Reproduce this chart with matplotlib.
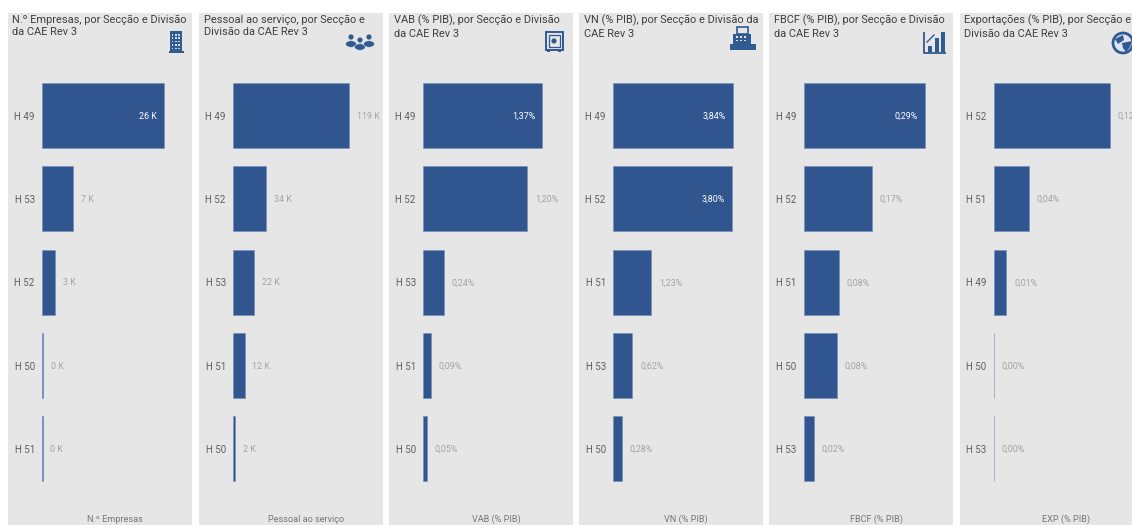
import matplotlib
matplotlib.use("Agg")
import matplotlib.pyplot as plt
from matplotlib.patches import Rectangle, Circle, Ellipse, Polygon

W, H = 1132, 525
plt.rcParams['font.family'] = ['Roboto', 'DejaVu Sans']

titles = ["N.º Empresas, por Secção e Divisão\nda CAE Rev 3",
          "Pessoal ao serviço, por Secção e\nDivisão da CAE Rev 3",
          "VAB (% PIB), por Secção e Divisão\nda CAE Rev 3",
          "VN (% PIB), por Secção e Divisão da\nCAE Rev 3",
          "FBCF (% PIB), por Secção e Divisão\nda CAE Rev 3",
          "Exportações (% PIB), por Secção e\nDivisão da CAE Rev 3"]
xlabels = ["N.º Empresas", "Pessoal ao serviço", "VAB (% PIB)", "VN (% PIB)", "FBCF (% PIB)", "EXP (% PIB)"]

emp_cats = ["H 49", "H 53", "H 52", "H 50", "H 51"]
emp_vals = [26.0, 6.6, 2.8, 0.2, 0.15]
emp_lbls = ["26 K", "7 K", "3 K", "0 K", "0 K"]

pes_cats = ["H 49", "H 52", "H 53", "H 51", "H 50"]
pes_vals = [119, 34, 22, 12, 2]
pes_lbls = ["119 K", "34 K", "22 K", "12 K", "2 K"]

vab_cats = ["H 49", "H 52", "H 53", "H 51", "H 50"]
vab_vals = [1.37, 1.20, 0.24, 0.09, 0.05]
vab_lbls = ["1,37%", "1,20%", "0,24%", "0,09%", "0,05%"]

vn_cats = ["H 49", "H 52", "H 51", "H 53", "H 50"]
vn_vals = [3.84, 3.80, 1.23, 0.62, 0.28]
vn_lbls = ["3,84%", "3,80%", "1,23%", "0,62%", "0,28%"]

fbcf_cats = ["H 49", "H 52", "H 51", "H 50", "H 53"]
fbcf_vals = [0.29, 0.165, 0.084, 0.08, 0.024]
fbcf_lbls = ["0,29%", "0,17%", "0,08%", "0,08%", "0,02%"]

exp_cats = ["H 52", "H 51", "H 49", "H 50", "H 53"]
exp_vals = [0.12, 0.037, 0.0134, 0.0006, 0.0004]
exp_lbls = ["0,12%", "0,04%", "0,01%", "0,00%", "0,00%"]

all_cats = [emp_cats, pes_cats, vab_cats, vn_cats, fbcf_cats, exp_cats]
all_vals = [emp_vals, pes_vals, vab_vals, vn_vals, fbcf_vals, exp_vals]
all_lbls = [emp_lbls, pes_lbls, vab_lbls, vn_lbls, fbcf_lbls, exp_lbls]
inside_count = [1, 0, 1, 2, 1, 0]

panel_x = [(8, 192), (199, 383), (389, 573), (579, 763), (769, 953), (960, 1145)]
bar_x0 = [42, 233, 423, 613, 803.5, 993.5]
max_w = [122, 116, 119, 120, 121, 116]
title_x = [12.5, 203.5, 393.5, 583.5, 774, 964]

BLUE = "#31568f"
PANEL = "#e6e6e6"
TXT = "#3f3f3f"
CAT = "#5f5f5f"
LBL = "#a3a3a3"

fig = plt.figure(figsize=(W / 100, H / 100), dpi=100, facecolor="white")
ov = fig.add_axes([0, 0, 1, 1], zorder=0)
ov.set_xlim(0, W)
ov.set_ylim(H, 0)
ov.axis("off")

for (a, b) in panel_x:
    ov.add_patch(Rectangle((a, 13), b - a, H - 13, fc=PANEL, ec="none"))

top, bottom = 74.0, 490.5
AW = 146
for i in range(6):
    ov.text(title_x[i], 14.5, titles[i], fontsize=7.9, color=TXT, va="top", ha="left",
            linespacing=1.33)
    ax = fig.add_axes([bar_x0[i] / W, 1 - bottom / H, AW / W, (bottom - top) / H], zorder=2)
    ax.patch.set_alpha(0)
    vals = all_vals[i]
    ys = list(range(5))
    ax.barh(ys, vals, height=0.78, color=BLUE, edgecolor="#6f8cb8", linewidth=0.4)
    ax.set_ylim(4.5, -0.5)
    ax.set_xlim(0, vals[0] * AW / max_w[i])
    ax.set_yticks(ys)
    ax.set_yticklabels(all_cats[i], fontsize=7, color=CAT)
    ax.tick_params(axis="y", length=0, pad=5.2)
    ax.set_xticks([])
    for s in ax.spines.values():
        s.set_visible(False)
    ax.set_xlabel(xlabels[i], fontsize=6.6, color="#777777", labelpad=17.5)
    for k, (v, t) in enumerate(zip(vals, all_lbls[i])):
        if k < inside_count[i]:
            ax.annotate(t, (v, k), xytext=(-5, -0.4), textcoords="offset points", ha="right",
                        va="center", fontsize=6.4, color="white")
        else:
            ax.annotate(t, (v, k), xytext=(5.5, -0.4), textcoords="offset points", ha="left",
                        va="center", fontsize=6.4, color=LBL, annotation_clip=False)

ICON = "#2f5a92"

# building
ov.add_patch(Rectangle((170, 31), 12, 21, fc=ICON, ec="none"))
ov.add_patch(Rectangle((168.5, 51), 15, 2, fc=ICON, ec="none"))
for r in range(5):
    for c in range(3):
        ov.add_patch(Rectangle((171.8 + c * 3.2, 34 + r * 3.4), 1.6, 1.6, fc="#d5dbe6", ec="none"))

# people
for cx, cy, rw in [(351, 37, 5.5), (360, 40, 5.5), (369, 37, 5.5)]:
    ov.add_patch(Circle((cx, cy), 2.6, fc=ICON, ec="none"))
    ov.add_patch(Ellipse((cx, cy + 7), rw * 2, 6.5, fc=ICON, ec=PANEL, lw=0.4))

# safe
ov.add_patch(Rectangle((545.5, 32), 17, 18, fc="none", ec=ICON, lw=1.4))
ov.add_patch(Rectangle((548.5, 35), 11, 12, fc="none", ec=ICON, lw=0.9))
ov.add_patch(Circle((554, 41), 2.6, fc=ICON, ec="none"))
ov.add_patch(Rectangle((547, 50), 3, 2, fc=ICON, ec="none"))
ov.add_patch(Rectangle((558, 50), 3, 2, fc=ICON, ec="none"))

# cash register
ov.add_patch(Rectangle((737, 27), 11, 7, fc="none", ec=ICON, lw=1.2))
ov.add_patch(Rectangle((733, 34), 18, 10, fc=ICON, ec="none"))
ov.add_patch(Rectangle((730, 44), 26, 6, fc=ICON, ec="none"))
for r in range(2):
    for c in range(3):
        ov.add_patch(Rectangle((736 + c * 4, 36 + r * 3.5), 2, 1.6, fc=PANEL, ec="none"))

# bar chart
ov.plot([924, 924, 946], [32, 53, 53], color=ICON, lw=1.3, solid_capstyle="butt")
for x0, y0, w in [(928, 46, 4), (934.5, 38, 4), (941, 32, 4)]:
    ov.add_patch(Rectangle((x0, y0), w, 52 - y0, fc=ICON, ec="none"))
ov.plot([927, 934], [42, 35], color=ICON, lw=1.0)

# globe
ov.add_patch(Circle((1123, 43), 10, fc="#dfe5ee", ec=ICON, lw=2))
ov.add_patch(Polygon([(1115, 39), (1123, 35), (1124, 40), (1118, 44)], fc=ICON, ec="none"))
ov.add_patch(Polygon([(1122, 43), (1132, 41), (1130, 47), (1126, 52), (1123, 48)], fc=ICON, ec="none"))

fig.savefig("out.png", dpi=100)
